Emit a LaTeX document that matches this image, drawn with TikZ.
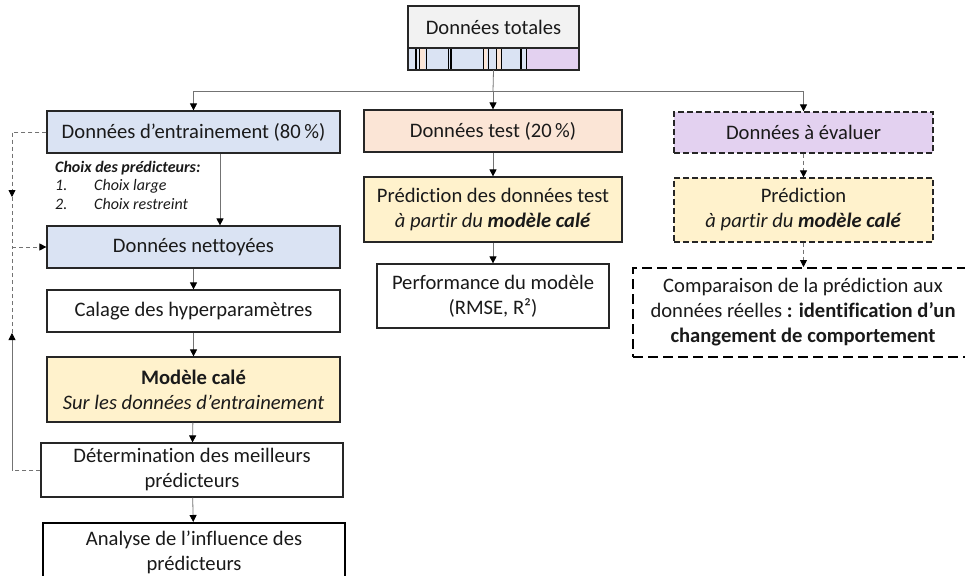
\documentclass[tikz,border=0pt]{standalone}
\usepackage{fontspec}
\setmainfont[Ligatures=NoCommon]{Carlito}
\usetikzlibrary{arrows.meta}
\definecolor{bfill}{HTML}{DAE3F3}
\definecolor{pfill}{HTML}{FBE5D6}
\definecolor{yfill}{HTML}{FFF2CC}
\definecolor{vfill}{HTML}{E3D1F0}
\definecolor{gfill}{HTML}{F2F2F2}
\definecolor{edge}{HTML}{262626}
\definecolor{txt}{HTML}{1A1A1A}
\begin{document}
\begin{tikzpicture}[x=1pt,y=-1pt,
  font=\fontsize{20.6}{25}\selectfont,
  box/.style={draw=edge, line width=1.2pt, rectangle, inner sep=0pt, align=center, text=txt},
  dbox/.style={box, dash pattern=on 6pt off 3pt},
  tip/.style={-{Triangle[width=7pt,length=7pt,color=black]}},
  conn/.style={draw=black!55, line width=0.8pt, tip},
  fb/.style={draw=black!55, line width=0.8pt, dash pattern=on 4pt off 3pt},
  dconn/.style={fb, tip}]
\useasboundingbox (0,0) rectangle (965,575);
\fill[white] (0,0) rectangle (965,575);

% top node and its bar
\node[box, fill=gfill, minimum width=171pt, minimum height=42pt] (tot) at (493.5,27) {Données totales};
\node[rectangle, inner sep=0pt, minimum width=171pt, minimum height=22pt] (bar) at (493.5,59) {};
\fill[bfill] (408,48) rectangle (527,70);
\fill[pfill] (420,48) rectangle (425,70);
\fill[pfill] (484,48) rectangle (487,70);
\fill[pfill] (497,48) rectangle (501,70);
\fill[vfill] (527,48) rectangle (579,70);
\draw[line width=2.2pt, black] (416,48) -- (416,70);
\draw[line width=1pt, black] (419.5,48) -- (419.5,70);
\draw[line width=1pt, black] (426,48) -- (426,70);
\draw[line width=1pt, black] (448,48) -- (448,70);
\draw[line width=2.2pt, black] (451,48) -- (451,70);
\draw[line width=1pt, black] (483,48) -- (483,70);
\draw[line width=1pt, black] (488,48) -- (488,70);
\draw[line width=1pt, black] (496,48) -- (496,70);
\draw[line width=1pt, black] (501,48) -- (501,70);
\draw[line width=2.2pt, black] (521,48) -- (521,70);
\draw[line width=1pt, black] (526,48) -- (526,70);
\draw[edge, line width=1.2pt] (408,48) rectangle (579,70);

% left column
\node[box, fill=bfill, minimum width=293pt, minimum height=42pt] (train) at (193.5,132) {Données d’entrainement (80\,\%)};
\node[anchor=north west, align=left, inner sep=0pt, text=txt, font=\itshape\fontsize{16}{18.5}\selectfont] (choix) at (55,161)
  {\textbf{Choix des prédicteurs:}\\\makebox[39pt][l]{1.}Choix large\\\makebox[39pt][l]{2.}Choix restreint};
\node[box, fill=bfill, minimum width=293pt, minimum height=42pt] (nett) at (193.5,247) {Données nettoyées};
\node[box, fill=white, minimum width=293pt, minimum height=42pt] (cal) at (193.5,311) {Calage des hyperparamètres};
\node[box, fill=yfill, minimum width=293pt, minimum height=65pt] (mod) at (193.5,389.5) {\textbf{Modèle calé}\\\textit{Sur les données d’entrainement}};
\node[box, fill=white, minimum width=302pt, minimum height=54pt] (det) at (192,470) {Détermination des meilleurs\\prédicteurs};
\node[box, fill=white, line width=2pt, draw=black, minimum width=302pt, minimum height=58pt] (ana) at (194,552) {Analyse de l’influence des\\prédicteurs};

% middle column
\node[box, fill=pfill, minimum width=258pt, minimum height=42pt] (test) at (493,131) {Données test (20\,\%)};
\node[box, fill=yfill, minimum width=258pt, minimum height=65pt] (pt) at (493,209.5) {Prédiction des données test\\\textit{à partir du \textbf{modèle calé}}};
\node[box, fill=white, minimum width=232pt, minimum height=64pt] (perf) at (493,296) {Performance du modèle\\(RMSE, R²)};

% right column
\node[dbox, fill=vfill, minimum width=259pt, minimum height=41pt] (eval) at (803.5,132.5) {Données à évaluer};
\node[dbox, fill=yfill, minimum width=259pt, minimum height=64pt] (pe) at (803.5,210) {Prédiction\\\textit{à partir du \textbf{modèle calé}}};
\node[box, draw=black, line width=2pt, dash pattern=on 10pt off 5pt, fill=white, minimum width=340pt, minimum height=89pt] (comp) at (803,312.5)
  {Comparaison de la prédiction aux\\données réelles \textbf{: identification d’un}\\\textbf{changement de comportement}};

% connectors
\coordinate (bus) at (493,91);
\draw[draw=black!55, line width=0.8pt] (bar.south) -- (bus);
\draw[conn] (bus) -- (test.north);
\draw[conn] (bus) -| (train.north);
\draw[conn] (bus) -| (eval.north);

\coordinate (xa) at (220,0);
\draw[conn] (train.south -| xa) -- (nett.north -| xa);
\draw[conn] (nett) -- (cal);
\draw[conn] (cal) -- (mod);
\draw[conn] (mod) -- (det);
\draw[conn] (det) -- (ana);

\draw[conn] (test) -- (pt);
\draw[conn] (pt) -- (perf);

\draw[dconn] (eval) -- (pe);
\draw[dconn] (pe.south) -- (comp.north -| pe.south);

% feedback loops
\coordinate (fx) at (12,0);
\coordinate (f1) at (12,197);
\coordinate (f3) at (12,333);
\draw[dconn] (train.west) -| (f1);
\draw[fb] (f1) -- (nett.west -| fx);
\draw[dconn] (nett.west -| fx) -- (nett.west);
\draw[fb] (det.west) -- (det.west -| fx);
\draw[draw=black!55, line width=0.8pt, tip] (det.west -| fx) -- (f3);
\draw[fb] (f3) -- (nett.west -| fx);
\end{tikzpicture}
\end{document}
